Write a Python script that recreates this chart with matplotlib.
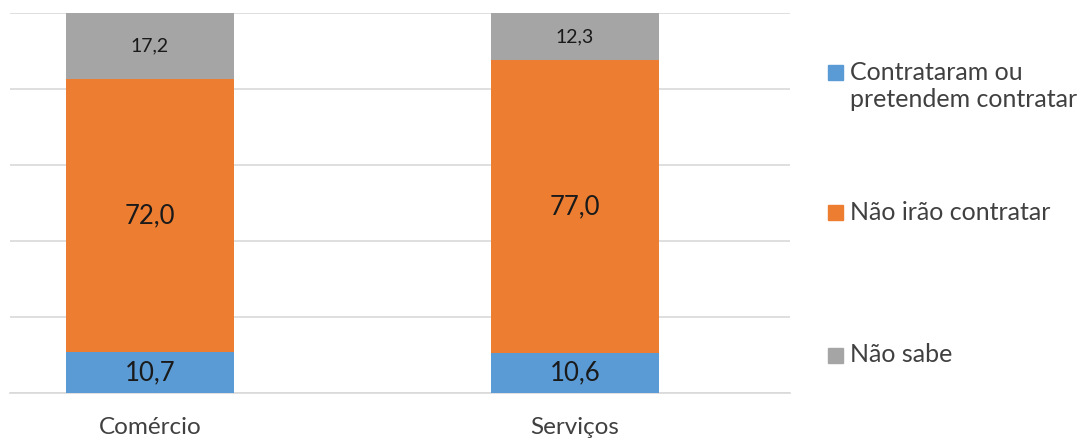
import matplotlib.pyplot as plt
from matplotlib.patches import Rectangle

plt.rcParams['font.family'] = ['Lato', 'DejaVu Sans']

# data
categories = ["Comércio", "Serviços"]
series_names = ["Contrataram ou\npretendem contratar", "Não irão contratar", "Não sabe"]
contrataram = [10.7, 10.6]
nao_irao = [72.0, 77.0]
nao_sabe = [17.2, 12.3]
colors = ["#5B9BD5", "#ED7D31", "#A5A5A5"]

fig = plt.figure(figsize=(10.83, 4.40), dpi=100)
ax = fig.add_axes([10 / 1083, 1 - 393 / 440, 780 / 1083, 380 / 440])

x = list(range(len(categories)))
width = 168 / 425
bottom = [0.0] * len(categories)
label_sizes = [18.5, 18.5, 14]
for vals, color, fs in zip([contrataram, nao_irao, nao_sabe], colors, label_sizes):
    ax.bar(x, vals, width, bottom=bottom, color=color, zorder=3)
    for xi, b, v in zip(x, bottom, vals):
        ax.text(xi, b + v / 2, f"{v:.1f}".replace(".", ","), ha="center", va="center",
                fontsize=fs, color="#1a1a1a", zorder=4)
    bottom = [b + v for b, v in zip(bottom, vals)]

ax.set_ylim(0, 100)
ax.set_xlim(-140 / 425, 640 / 425)
ax.set_yticks(range(0, 101, 20))
ax.yaxis.grid(True, color="#d9d9d9", linewidth=1.2, zorder=0)
ax.tick_params(axis="y", left=False, labelleft=False)
ax.tick_params(axis="x", bottom=False, labelsize=17.5, labelcolor="#404040", pad=14)
ax.set_xticks(x)
ax.set_xticklabels(categories)
for side in ["left", "right", "top"]:
    ax.spines[side].set_visible(False)
ax.spines["bottom"].set_color("#d9d9d9")
ax.spines["bottom"].set_linewidth(1.2)

# legend drawn by hand, square next to first line of each label
legend_y = [73, 213, 355]
for name, color, y in zip(series_names, colors, legend_y):
    fig.patches.append(Rectangle((828 / 1083, 1 - (y + 7.5) / 440), 15 / 1083, 15 / 440,
                                 transform=fig.transFigure, color=color))
    fig.text(850 / 1083, 1 - (y - 12) / 440, name, ha="left", va="top",
             fontsize=18, color="#404040", linespacing=1.2)

fig.savefig("out.png", dpi=100)
